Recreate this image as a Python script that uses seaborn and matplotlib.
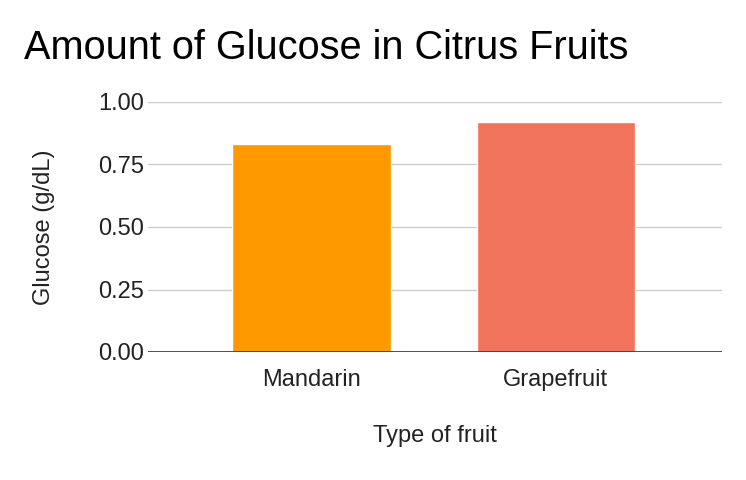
import pandas as pd
import matplotlib.pyplot as plt
import seaborn as sns

# data
fruits = ["Mandarin", "Grapefruit"]
glucose = [0.832, 0.92]
bar_colors = ["#ff9900", "#f2735b"]

df = pd.DataFrame({"fruit": fruits, "glucose": glucose})

sns.set_style("white")
plt.rcParams["font.family"] = ["Liberation Sans", "DejaVu Sans"]

fig = plt.figure(figsize=(7.46, 4.8), dpi=100)
ax = fig.add_axes([148 / 746, 1 - 352 / 480, 574 / 746, 250 / 480])

sns.barplot(data=df, x="fruit", y="glucose", hue="fruit", palette=bar_colors,
            saturation=1, width=0.65, legend=False, ax=ax, zorder=3)

ax.set_xlim(-0.67, 1.68)
ax.set_ylim(0, 1.0)
ax.set_yticks([0, 0.25, 0.5, 0.75, 1.0])
ax.set_yticklabels(["0.00", "0.25", "0.50", "0.75", "1.00"])
ax.yaxis.grid(True, color="#cccccc", linewidth=1)
ax.axhline(0, color="#333333", linewidth=1.2, zorder=4)
for s in ax.spines.values():
    s.set_visible(False)
ax.tick_params(axis="both", length=0, labelsize=17, colors="#222222")
ax.tick_params(axis="y", pad=3)
ax.tick_params(axis="x", pad=12)

ax.set_xlabel("Type of fruit", fontsize=17, labelpad=25, color="#222222")
ax.set_ylabel("Glucose (g/dL)", fontsize=17, labelpad=31, color="#222222")

fig.text(24 / 746, 1 - 48 / 480, "Amount of Glucose in Citrus Fruits",
         fontsize=28.6, va="center", ha="left", color="#000000")

fig.savefig("out.png", dpi=100)
